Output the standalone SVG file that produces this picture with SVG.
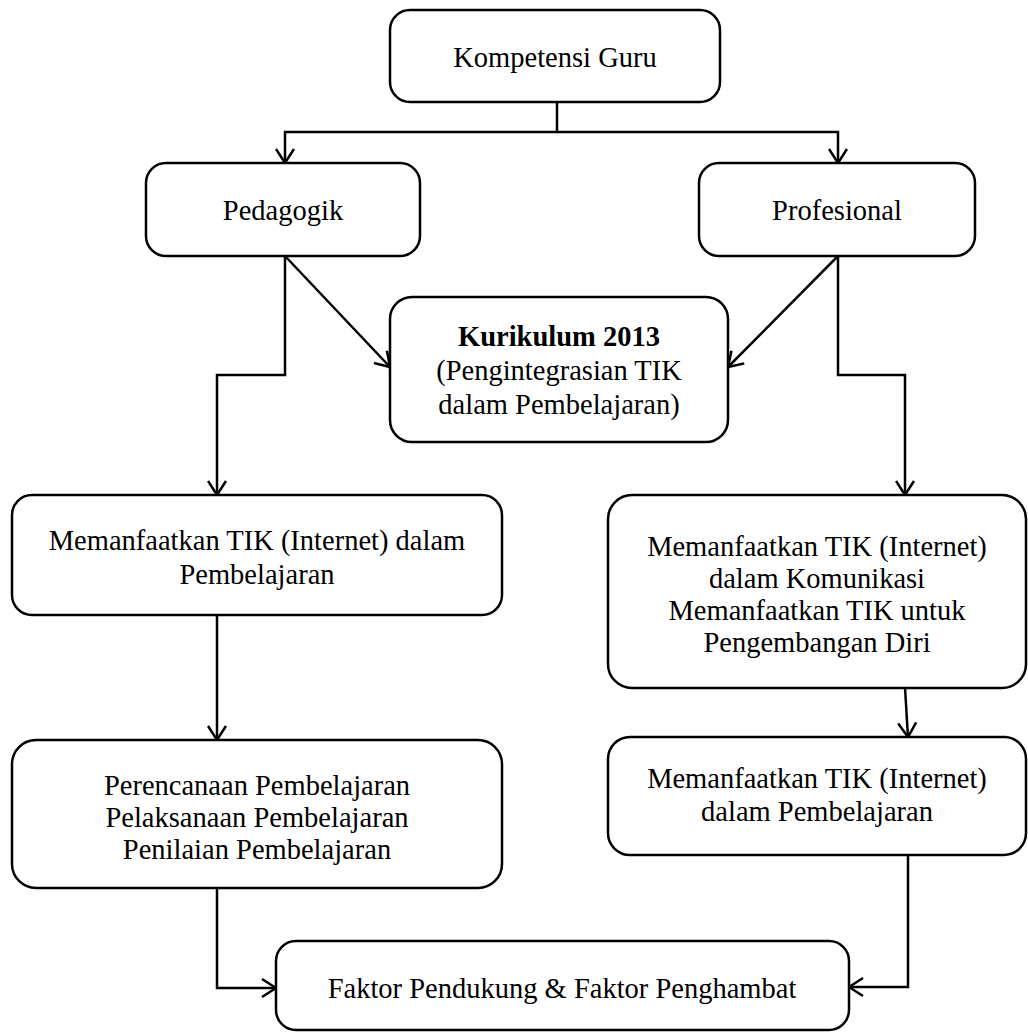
<svg xmlns="http://www.w3.org/2000/svg" width="1028" height="1033" viewBox="0 0 1028 1033">
<style>
.box{fill:#fff;stroke:#000;stroke-width:2.5}
.t{font-family:"Liberation Serif","Times New Roman",serif;font-size:28.5px;fill:#000;text-anchor:middle}
.b{font-weight:bold}
.c{fill:none;stroke:#000;stroke-width:2.5}
</style>
<defs>
<marker id="arr" viewBox="0 0 16 20" refX="15" refY="10" markerWidth="16" markerHeight="20" markerUnits="userSpaceOnUse" orient="auto">
<path d="M1,1 L15,10 L1,19" fill="none" stroke="#000" stroke-width="2.5"/>
</marker>
</defs>
<rect width="1028" height="1033" fill="#fff"/>
<g id="connectors">
<path class="c" d="M557,102 V132 H285 V163" marker-end="url(#arr)"/>
<path class="c" d="M557,132 H838 V163" marker-end="url(#arr)"/>
<path class="c" d="M285,256 L390,367" marker-end="url(#arr)"/>
<path class="c" d="M838,256 L728,367" marker-end="url(#arr)"/>
<path class="c" d="M285,256 V375 H217 V495" marker-end="url(#arr)"/>
<path class="c" d="M838,256 V375 H905 V495" marker-end="url(#arr)"/>
<path class="c" d="M217,615 V740" marker-end="url(#arr)"/>
<path class="c" d="M905,688 L908,737" marker-end="url(#arr)"/>
<path class="c" d="M217,888 V988 H276" marker-end="url(#arr)"/>
<path class="c" d="M908,855 V987 H849" marker-end="url(#arr)"/>
</g>
<g id="kompetensi">
<rect class="box" x="390" y="10" width="330" height="92" rx="20"/>
<text class="t" x="555" y="67">Kompetensi Guru</text>
</g>
<g id="pedagogik">
<rect class="box" x="146" y="163" width="274" height="93" rx="20"/>
<text class="t" x="283" y="220">Pedagogik</text>
</g>
<g id="profesional">
<rect class="box" x="699" y="163" width="276" height="93" rx="20"/>
<text class="t" x="837" y="220">Profesional</text>
</g>
<g id="kurikulum">
<rect class="box" x="390" y="297" width="338" height="145" rx="22"/>
<text class="t b" x="559" y="346">Kurikulum 2013</text>
<text class="t" x="559" y="380">(Pengintegrasian TIK</text>
<text class="t" x="559" y="414">dalam Pembelajaran)</text>
</g>
<g id="memanfaatkan-kiri">
<rect class="box" x="12" y="495" width="490" height="120" rx="20"/>
<text class="t" x="257" y="550">Memanfaatkan TIK (Internet) dalam</text>
<text class="t" x="257" y="584">Pembelajaran</text>
</g>
<g id="memanfaatkan-kanan">
<rect class="box" x="608" y="495" width="418" height="193" rx="24"/>
<text class="t" x="817" y="556">Memanfaatkan TIK (Internet)</text>
<text class="t" x="817" y="588">dalam Komunikasi</text>
<text class="t" x="817" y="620">Memanfaatkan TIK untuk</text>
<text class="t" x="817" y="652">Pengembangan Diri</text>
</g>
<g id="perencanaan">
<rect class="box" x="12" y="740" width="490" height="148" rx="24"/>
<text class="t" x="257" y="795">Perencanaan Pembelajaran</text>
<text class="t" x="257" y="827">Pelaksanaan Pembelajaran</text>
<text class="t" x="257" y="859">Penilaian Pembelajaran</text>
</g>
<g id="memanfaatkan-pembelajaran">
<rect class="box" x="608" y="737" width="418" height="118" rx="22"/>
<text class="t" x="817" y="788">Memanfaatkan TIK (Internet)</text>
<text class="t" x="817" y="821">dalam Pembelajaran</text>
</g>
<g id="faktor">
<rect class="box" x="276" y="941" width="573" height="89" rx="20"/>
<text class="t" x="562" y="998">Faktor Pendukung &amp; Faktor Penghambat</text>
</g>
</svg>
